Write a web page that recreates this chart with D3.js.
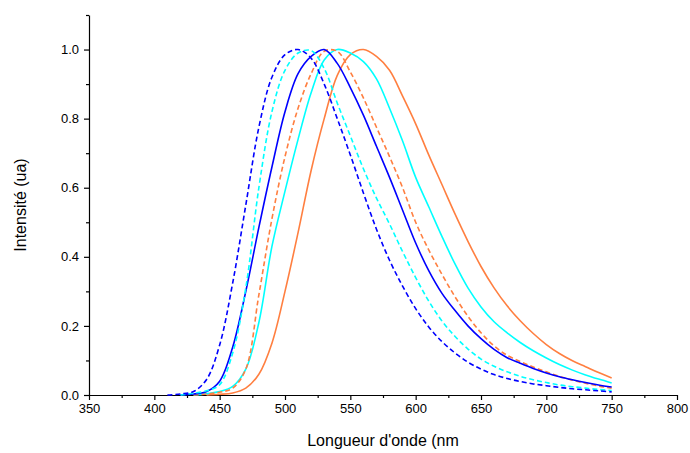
<!DOCTYPE html>
<html>
<head>
<meta charset="utf-8">
<script src="https://cdn.jsdelivr.net/npm/d3@7"></script>
<style>
  body { margin: 0; background: #fff; }
  svg { display: block; font-family: "Liberation Sans", Arial, sans-serif; }
  .axis text { font-size: 13px; fill: #000; }
  .axis path, .axis line { stroke: #000; stroke-width: 1.2; }
</style>
</head>
<body>
<svg width="690" height="453"></svg>
<script>
// wavelength grid (nm) shared by all spectra
const wavelengths = [410, 420, 430, 440, 450, 460, 470, 480, 490, 500, 510, 520, 530, 540, 550, 560, 570, 580,
  590, 600, 610, 620, 630, 640, 650, 660, 670, 680, 690, 700, 710, 720, 730, 740, 750]

// normalised intensities (null = curve not drawn yet)
const blueDashed = [0.0, 0.003, 0.01, 0.045, 0.145, 0.325, 0.55, 0.775, 0.92, 0.985, 1.0, 0.975, 0.9, 0.8, 0.695,
  0.585, 0.48, 0.39, 0.315, 0.25, 0.197, 0.155, 0.122, 0.095, 0.075, 0.059, 0.048, 0.039, 0.032, 0.027, 0.022,
  0.018, 0.015, 0.012, 0.009]
const cyanDashed = [null, 0.0, 0.005, 0.012, 0.03, 0.122, 0.31, 0.6, 0.82, 0.94, 0.99, 0.997, 0.945, 0.845, 0.75,
  0.655, 0.57, 0.495, 0.415, 0.34, 0.272, 0.215, 0.17, 0.133, 0.104, 0.083, 0.067, 0.054, 0.044, 0.036, 0.029,
  0.024, 0.02, 0.016, 0.013]
const blueSolid = [null, 0.0, 0.003, 0.01, 0.04, 0.139, 0.3, 0.485, 0.66, 0.82, 0.93, 0.98, 1.0, 0.96, 0.89,
  0.81, 0.72, 0.63, 0.535, 0.44, 0.36, 0.295, 0.245, 0.2, 0.163, 0.132, 0.108, 0.092, 0.077, 0.064, 0.053, 0.044,
  0.036, 0.029, 0.023]
const orangeDashed = [null, null, 0.0, 0.003, 0.008, 0.02, 0.075, 0.29, 0.51, 0.69, 0.83, 0.93, 0.995, 0.995, 0.935,
  0.86, 0.775, 0.69, 0.6, 0.5, 0.42, 0.35, 0.285, 0.228, 0.18, 0.142, 0.115, 0.097, 0.081, 0.067, 0.054, 0.043,
  0.034, 0.026, 0.02]
const cyanSolid = [null, null, 0.0, 0.004, 0.01, 0.025, 0.075, 0.21, 0.43, 0.59, 0.74, 0.875, 0.97, 1.0, 0.99,
  0.965, 0.915, 0.83, 0.735, 0.63, 0.545, 0.46, 0.38, 0.31, 0.255, 0.212, 0.18, 0.152, 0.128, 0.107, 0.088, 0.072,
  0.058, 0.046, 0.035]
const orangeSolid = [null, null, null, 0.0, 0.002, 0.006, 0.02, 0.06, 0.15, 0.3, 0.47, 0.65, 0.8, 0.925, 0.985,
  1.0, 0.98, 0.94, 0.865, 0.785, 0.695, 0.61, 0.525, 0.445, 0.372, 0.31, 0.258, 0.215, 0.178, 0.146, 0.12, 0.099,
  0.082, 0.065, 0.049]

const series = [
  { values: orangeSolid, color: '#ff7f40', dash: null },
  { values: cyanSolid, color: '#00ffff', dash: null },
  { values: orangeDashed, color: '#ff7f40', dash: '5,3' },
  { values: blueSolid, color: '#0000ff', dash: null },
  { values: cyanDashed, color: '#00ffff', dash: '5,3' },
  { values: blueDashed, color: '#0000ff', dash: '5,3' }
]

const xMajor = d3.range(350, 801, 50)
const xMinor = d3.range(375, 800, 50)
const yMajor = [0, 0.2, 0.4, 0.6, 0.8, 1.0]
const yMinor = [0.1, 0.3, 0.5, 0.7, 0.9, 1.1]

var svg = d3.select('svg')
var margin = { left: 89, top: 15, right: 13, bottom: 58 }
var width = 690, height = 453

var x = d3.scaleLinear().domain([350, 800]).range([margin.left, width - margin.right])
var y = d3.scaleLinear().domain([0, 1.1]).range([height - margin.bottom, margin.top])

// minor ticks first, then the main axes on top
svg.append('g')
  .attr('class', 'axis')
  .attr('transform', `translate(0,${y(0)})`)
  .call(d3.axisBottom(x).tickValues(xMinor).tickSize(3).tickFormat(''))
  .call(g => g.select('.domain').remove())

svg.append('g')
  .attr('class', 'axis')
  .attr('transform', `translate(${x(350)},0)`)
  .call(d3.axisLeft(y).tickValues(yMinor).tickSize(3).tickFormat(''))
  .call(g => g.select('.domain').remove())

svg.append('g')
  .attr('class', 'axis')
  .attr('transform', `translate(0,${y(0)})`)
  .call(d3.axisBottom(x).tickValues(xMajor).tickSize(5).tickSizeOuter(0).tickPadding(4).tickFormat(d3.format('d')))

svg.append('g')
  .attr('class', 'axis')
  .attr('transform', `translate(${x(350)},0)`)
  .call(d3.axisLeft(y).tickValues(yMajor).tickSize(5).tickSizeOuter(0).tickPadding(5).tickFormat(d3.format('.1f')))

// spectra
var line = d3.line()
  .defined(d => d[1] !== null)
  .x(d => x(d[0]))
  .y(d => Math.min(y(d[1]), y(0)))
  .curve(d3.curveCatmullRom.alpha(0.5))

svg.append('g')
  .selectAll('path')
  .data(series)
  .enter().append('path')
  .attr('d', s => line(wavelengths.map((w, i) => [w, s.values[i]])))
  .attr('fill', 'none')
  .attr('stroke', s => s.color)
  .attr('stroke-width', 1.6)
  .attr('stroke-dasharray', s => s.dash)

// axis titles
svg.append('text')
  .attr('x', (x(350) + x(800)) / 2)
  .attr('y', 446)
  .attr('text-anchor', 'middle')
  .attr('font-size', 16)
  .text("Longueur d'onde (nm")

svg.append('text')
  .attr('transform', `translate(26,${(y(0) + y(1.1)) / 2}) rotate(-90)`)
  .attr('text-anchor', 'middle')
  .attr('font-size', 16)
  .text('Intensité (ua)')
</script>
</body>
</html>
